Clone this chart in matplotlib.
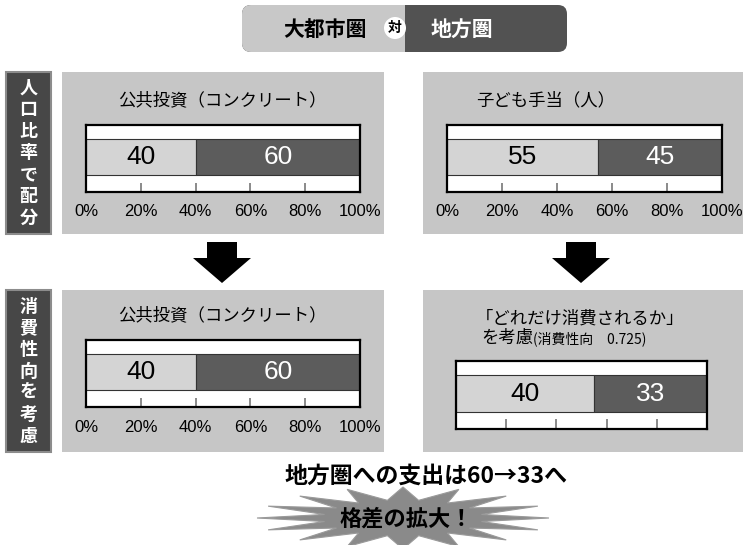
import numpy as np
import matplotlib
matplotlib.use("Agg")
import matplotlib.pyplot as plt
from matplotlib.patches import Rectangle, FancyBboxPatch, Circle, Polygon

plt.rcParams['font.family'] = ['Noto Sans CJK JP', 'DejaVu Sans']
NUM_FONT = ['Liberation Sans Narrow', 'Liberation Sans', 'DejaVu Sans']

# data
regions = ["大都市圏", "地方圏"]
row_labels = ["人口比率で配分", "消費性向を考慮"]
public_investment = [40, 60]        # 公共投資: 人口比率で配分
child_allowance = [55, 45]          # 子ども手当: 人口比率で配分
public_investment_mpc = [40, 60]    # 公共投資: 消費性向を考慮
child_allowance_mpc = [40, 33]      # 子ども手当: 消費性向を考慮
mpc = 0.725
pct_ticks = [0, 20, 40, 60, 80, 100]
pct_labels = ["0%", "20%", "40%", "60%", "80%", "100%"]

W, H = 743, 545
PANEL = '#c6c6c6'
LIGHT = '#d4d4d4'
DARK = '#5c5c5c'

fig = plt.figure(figsize=(W / 100, H / 100), dpi=100)
bg = fig.add_axes([0, 0, 1, 1])
bg.set_xlim(0, W)
bg.set_ylim(H, 0)
bg.axis('off')


def px_axes(x0, y0, x1, y1):
    return fig.add_axes([x0 / W, 1 - y1 / H, (x1 - x0) / W, (y1 - y0) / H])


# header pill
pill = FancyBboxPatch((242, 5), 325, 47, boxstyle="round,pad=0,rounding_size=9",
                      fc='#525252', ec='none')
bg.add_patch(pill)
left_half = Rectangle((242, 5), 163, 47, fc='#c8c8c8', ec='none')
bg.add_patch(left_half)
left_half.set_clip_path(pill)
bg.text(325, 29, regions[0], ha='center', va='center', fontsize=15,
        fontweight='bold', color='black')
bg.add_patch(Circle((395, 28), 11, fc='white', ec='none'))
bg.text(395, 28, "対", ha='center', va='center', fontsize=10,
        fontweight='bold', color='black')
bg.text(462, 29, regions[1], ha='center', va='center', fontsize=15,
        fontweight='bold', color='white')

# row label boxes
for (y0, y1), lab in zip([(72, 234), (290, 452)], row_labels):
    bg.add_patch(Rectangle((6, y0), 45, y1 - y0, fc='#474747', ec='#8c8c8c', lw=1.5))
    n = len(lab)
    step = (y1 - y0 - 32) / (n - 1)
    for i, ch in enumerate(lab):
        bg.text(28.5, y0 + 16 + i * step, ch, ha='center', va='center',
                fontsize=13, fontweight='bold', color='white')

# panels
panels = [(62, 72, 384, 234), (423, 72, 743, 234),
          (62, 290, 384, 452), (423, 290, 743, 452)]
for x0, y0, x1, y1 in panels:
    bg.add_patch(Rectangle((x0, y0), x1 - x0, y1 - y0, fc=PANEL, ec='none'))

# down arrows
for cx in [222, 581]:
    bg.add_patch(Polygon([(cx - 15, 242), (cx + 15, 242), (cx + 15, 258),
                          (cx + 29, 258), (cx, 283), (cx - 29, 258),
                          (cx - 15, 258)], closed=True, fc='black', ec='none'))


def bar_box(rect, values, tick_labels=True):
    ax = px_axes(*rect)
    total = sum(values)
    ax.set_xlim(0, total)
    ax.set_ylim(0, 1)
    ax.set_facecolor('white')
    for s in ax.spines.values():
        s.set_linewidth(1.6)
        s.set_color('black')
    left = 0
    for i, v in enumerate(values):
        ax.barh(0.52, v, height=0.54, left=left, color=LIGHT if i == 0 else DARK,
                edgecolor='#333333', linewidth=0.8)
        ax.text(left + v / 2, 0.52, str(v), ha='center', va='center',
                fontsize=19, family=NUM_FONT,
                color='black' if i == 0 else 'white')
        left += v
    frac = np.array(pct_ticks[1:-1]) / 100 * total
    ax.vlines(frac, 0, 0.14, color='#777777', lw=1.2)
    ax.set_yticks([])
    if tick_labels:
        ax.set_xticks(np.array(pct_ticks) / 100 * total)
        ax.set_xticklabels(pct_labels, family=NUM_FONT, fontsize=12)
        ax.tick_params(axis='x', length=0, pad=9)
    else:
        ax.set_xticks([])
    return ax


bar_box((86, 125, 360, 192), public_investment)
bar_box((447, 125, 722, 192), child_allowance)
bar_box((86, 340, 360, 407), public_investment_mpc)
bar_box((456, 361, 707, 429), child_allowance_mpc, tick_labels=False)

# panel titles
bg.text(222, 100, "公共投資（コンクリート）", ha='center', va='center', fontsize=12.5)
bg.text(546, 100, "子ども手当（人）", ha='center', va='center', fontsize=12.5)
bg.text(222, 315, "公共投資（コンクリート）", ha='center', va='center', fontsize=12.5)
bg.text(580, 319, "「どれだけ消費されるか」", ha='center', va='center', fontsize=12.5)
bg.text(533, 338, "を考慮", ha='right', va='center', fontsize=12.5)
bg.text(533, 339, "(消費性向　%.3f)" % mpc, ha='left', va='center', fontsize=10)

# summary text
bg.text(426, 476, "地方圏への支出は%d→%dへ" % (public_investment_mpc[1], child_allowance_mpc[1]),
        ha='center', va='center', fontsize=16.5, fontweight='bold')

# starburst
n_pts = 16
ang = np.linspace(0, 2 * np.pi, 2 * n_pts, endpoint=False)
rx = np.where(np.arange(2 * n_pts) % 2 == 0, 146, 80)
ry = np.where(np.arange(2 * n_pts) % 2 == 0, 31, 18)
star = np.column_stack([403 + rx * np.cos(ang), 518 + ry * np.sin(ang)])
bg.add_patch(Polygon(star, closed=True, fc='#8a8a8a', ec='#9a9a9a', lw=0.8))
bg.text(406, 519, "格差の拡大！", ha='center', va='center', fontsize=16,
        fontweight='bold', color='black')

fig.savefig("out.png", dpi=100)
